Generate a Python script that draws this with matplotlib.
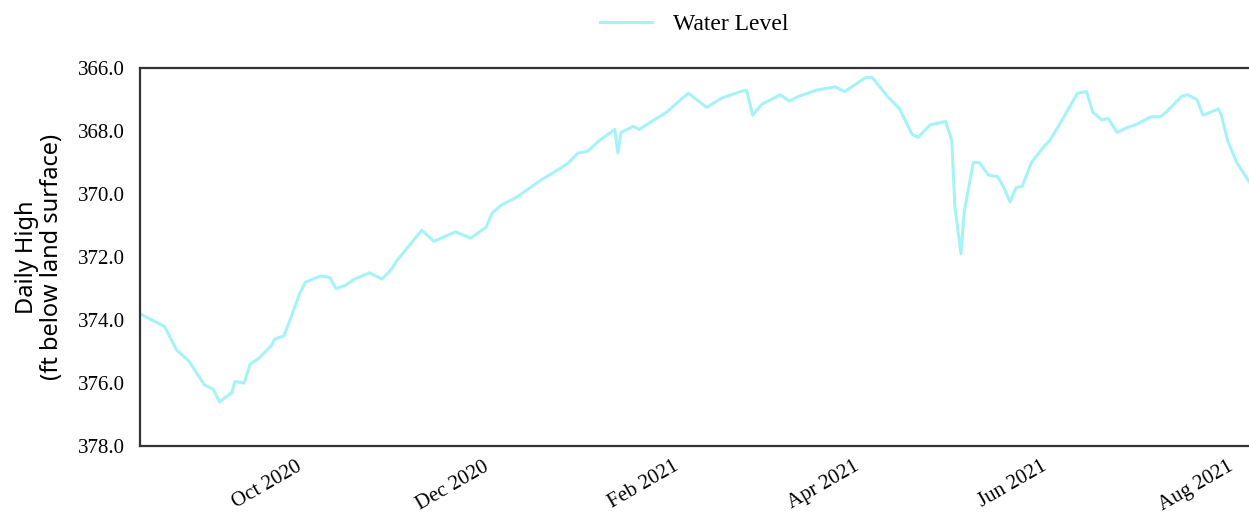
import matplotlib
matplotlib.use("Agg")
import matplotlib.pyplot as plt
import matplotlib.dates as mdates
import pandas as pd

# daily high water level (ft below land surface)
dates = [
    "2020-08-08", "2020-08-16", "2020-08-20", "2020-08-24", "2020-08-29",
    "2020-09-01", "2020-09-03", "2020-09-07", "2020-09-08", "2020-09-11",
    "2020-09-13", "2020-09-16", "2020-09-20", "2020-09-21", "2020-09-24",
    "2020-09-26", "2020-09-29", "2020-10-01", "2020-10-06", "2020-10-09",
    "2020-10-11", "2020-10-14", "2020-10-17", "2020-10-22", "2020-10-26",
    "2020-10-29", "2020-10-31", "2020-11-08", "2020-11-12", "2020-11-19",
    "2020-11-24", "2020-11-29", "2020-12-01", "2020-12-04", "2020-12-09",
    "2020-12-17", "2020-12-23", "2020-12-26", "2020-12-29", "2021-01-01",
    "2021-01-05", "2021-01-10", "2021-01-11", "2021-01-12", "2021-01-16",
    "2021-01-18", "2021-01-22", "2021-01-27", "2021-01-31", "2021-02-03",
    "2021-02-05", "2021-02-09", "2021-02-14", "2021-02-20", "2021-02-22",
    "2021-02-24", "2021-02-27", "2021-03-05", "2021-03-08", "2021-03-11",
    "2021-03-17", "2021-03-23", "2021-03-26", "2021-04-02", "2021-04-04",
    "2021-04-09", "2021-04-13", "2021-04-17", "2021-04-19", "2021-04-23",
    "2021-04-28", "2021-04-30", "2021-05-01", "2021-05-03", "2021-05-04",
    "2021-05-07", "2021-05-09", "2021-05-12", "2021-05-15", "2021-05-17",
    "2021-05-19", "2021-05-21", "2021-05-23", "2021-05-26", "2021-05-30",
    "2021-06-01", "2021-06-05", "2021-06-10", "2021-06-13", "2021-06-15",
    "2021-06-18", "2021-06-20", "2021-06-23", "2021-06-26", "2021-06-29",
    "2021-07-04", "2021-07-07", "2021-07-09", "2021-07-14", "2021-07-16",
    "2021-07-19", "2021-07-21", "2021-07-26", "2021-07-27", "2021-07-29",
    "2021-08-01", "2021-08-04", "2021-08-05",
]
water_level = [
    373.8, 374.2, 374.95, 375.3, 376.05,
    376.2, 376.6, 376.3, 375.95, 376.0,
    375.4, 375.2, 374.8, 374.6, 374.5,
    374.0, 373.2, 372.8, 372.6, 372.65,
    373.0, 372.9, 372.7, 372.5, 372.7,
    372.4, 372.1, 371.15, 371.5, 371.2,
    371.4, 371.05, 370.6, 370.35, 370.1,
    369.55, 369.2, 369.0, 368.7, 368.65,
    368.3, 367.95, 368.7, 368.05, 367.85,
    367.95, 367.7, 367.4, 367.05, 366.8,
    366.95, 367.25, 366.95, 366.75, 366.7,
    367.5, 367.15, 366.85, 367.05, 366.9,
    366.7, 366.6, 366.75, 366.3, 366.3,
    366.9, 367.3, 368.1, 368.2, 367.8,
    367.7, 368.3, 370.4, 371.9, 370.6,
    369.0, 369.0, 369.4, 369.45, 369.8,
    370.25, 369.8, 369.75, 369.0, 368.5,
    368.3, 367.65, 366.8, 366.75, 367.4,
    367.65, 367.6, 368.05, 367.9, 367.8,
    367.55, 367.55, 367.4, 366.9, 366.85,
    367.0, 367.5, 367.3, 367.5, 368.3,
    369.0, 369.45, 369.6,
]

y_ticks = [366.0, 368.0, 370.0, 372.0, 374.0, 376.0, 378.0]

serif = "Liberation Serif"
sans = "Noto Sans"

fig = plt.figure(figsize=(12.49, 5.23), dpi=100)
ax = fig.add_axes([0.112, 0.147, 0.888, 0.723])

ax.plot(pd.to_datetime(dates), water_level, color="#a6f3f7", lw=2.2,
        label="Water Level")

ax.set_ylim(378.0, 366.0)
ax.set_yticks(y_ticks)
ax.yaxis.set_major_formatter(plt.FormatStrFormatter("%.1f"))
ax.set_xlim(pd.Timestamp("2020-08-08"), pd.Timestamp("2021-08-05"))
ax.xaxis.set_major_locator(mdates.MonthLocator(bymonth=[2, 4, 6, 8, 10, 12]))
ax.xaxis.set_major_formatter(mdates.DateFormatter("%b %Y"))

ax.tick_params(axis="y", length=0, labelsize=15, pad=11)
ax.tick_params(axis="x", length=0, labelsize=15, pad=8)
for lbl in ax.get_xticklabels() + ax.get_yticklabels():
    lbl.set_family(serif)
plt.setp(ax.get_xticklabels(), rotation=30, ha="right")

for side in ["left", "top", "bottom"]:
    ax.spines[side].set_color("#333333")
    ax.spines[side].set_linewidth(1.6)
ax.spines["right"].set_visible(False)

ax.set_ylabel("Daily High\n(ft below land surface)", family=sans,
              fontsize=17, labelpad=10, linespacing=1.05)

leg = ax.legend(loc="lower center", bbox_to_anchor=(0.5, 1.03), frameon=False,
                handlelength=2.2, handletextpad=0.9,
                prop={"family": serif, "size": 17})

fig.savefig("out.png", dpi=100)
